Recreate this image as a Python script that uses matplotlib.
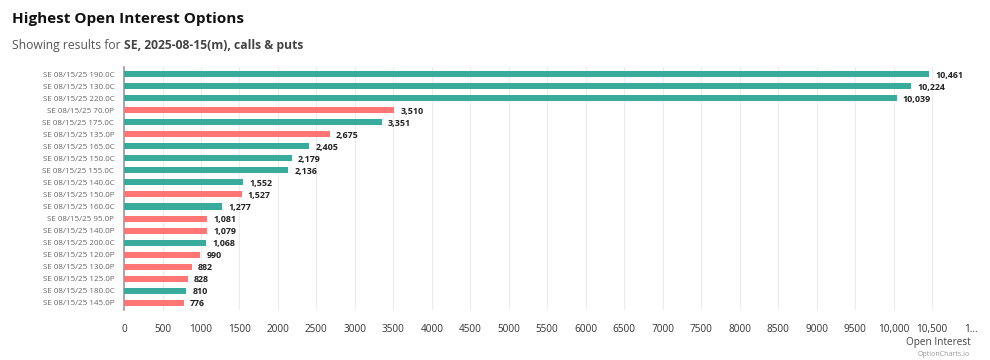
import matplotlib.pyplot as plt

labels = ["SE 08/15/25 190.0C", "SE 08/15/25 130.0C", "SE 08/15/25 220.0C", "SE 08/15/25 70.0P",
          "SE 08/15/25 175.0C", "SE 08/15/25 135.0P", "SE 08/15/25 165.0C", "SE 08/15/25 150.0C",
          "SE 08/15/25 155.0C", "SE 08/15/25 140.0C", "SE 08/15/25 150.0P", "SE 08/15/25 160.0C",
          "SE 08/15/25 95.0P", "SE 08/15/25 140.0P", "SE 08/15/25 200.0C", "SE 08/15/25 120.0P",
          "SE 08/15/25 130.0P", "SE 08/15/25 125.0P", "SE 08/15/25 180.0C", "SE 08/15/25 145.0P"]
values = [10461, 10224, 10039, 3510, 3351, 2675, 2405, 2179, 2136, 1552,
          1527, 1277, 1081, 1079, 1068, 990, 882, 828, 810, 776]
ticks = list(range(0, 11001, 500))
tick_labels = [str(t) if t < 10000 else f"{t:,}" for t in ticks[:-1]] + ["1..."]

teal = '#38ab9c'
red = '#ff7675'

plt.rcParams['font.family'] = ['Open Sans', 'DejaVu Sans']

fig = plt.figure(figsize=(9.9, 3.6), dpi=100)
ax = fig.add_axes([0.1253, 0.139, 0.855, 0.675])

n = len(values)
ys = list(range(n))[::-1]
colors = [red if l.endswith('P') else teal for l in labels]
for y, v, c in zip(ys, values, colors):
    ax.barh(y, v, height=0.5, color=c, zorder=3)
    ax.text(v + 80, y - 0.08, f"{v:,}", va='center', ha='left', fontsize=6.4, fontweight='bold', color='#222222')

ax.set_xlim(0, 11000)
ax.set_ylim(-0.6, n - 0.4)
ax.set_yticks(ys)
ax.set_yticklabels(labels, fontsize=5.8, color='#666666')
ax.set_xticks(ticks)
ax.set_xticklabels(tick_labels, fontsize=7.2, color='#333333')
ax.tick_params(axis='y', length=0, pad=7)
ax.tick_params(axis='x', length=0, pad=10)
ax.grid(axis='x', color='#ececec', linewidth=0.8, zorder=0)
for s in ['top', 'right', 'bottom']:
    ax.spines[s].set_visible(False)
ax.spines['left'].set_color('#999999')
ax.spines['left'].set_linewidth(1.2)

fig.text(0.012, 0.948, "Highest Open Interest Options", fontsize=11, fontweight='bold', color='#111111', va='center')
t1 = fig.text(0.012, 0.873, "Showing results for ", fontsize=8.7, color='#555555', va='center')
fig.canvas.draw()
bb = t1.get_window_extent().transformed(fig.transFigure.inverted())
fig.text(bb.x1, 0.873, "SE, 2025-08-15(m), calls & puts", fontsize=8.7, color='#444444', fontweight='bold', va='center')
fig.text(0.98, 0.048, "Open Interest", fontsize=7.2, color='#444444', ha='right', va='center')
fig.text(0.98, 0.015, "OptionCharts.io", fontsize=5, color='#999999', ha='right', va='center')

fig.savefig('out.png', dpi=100)
